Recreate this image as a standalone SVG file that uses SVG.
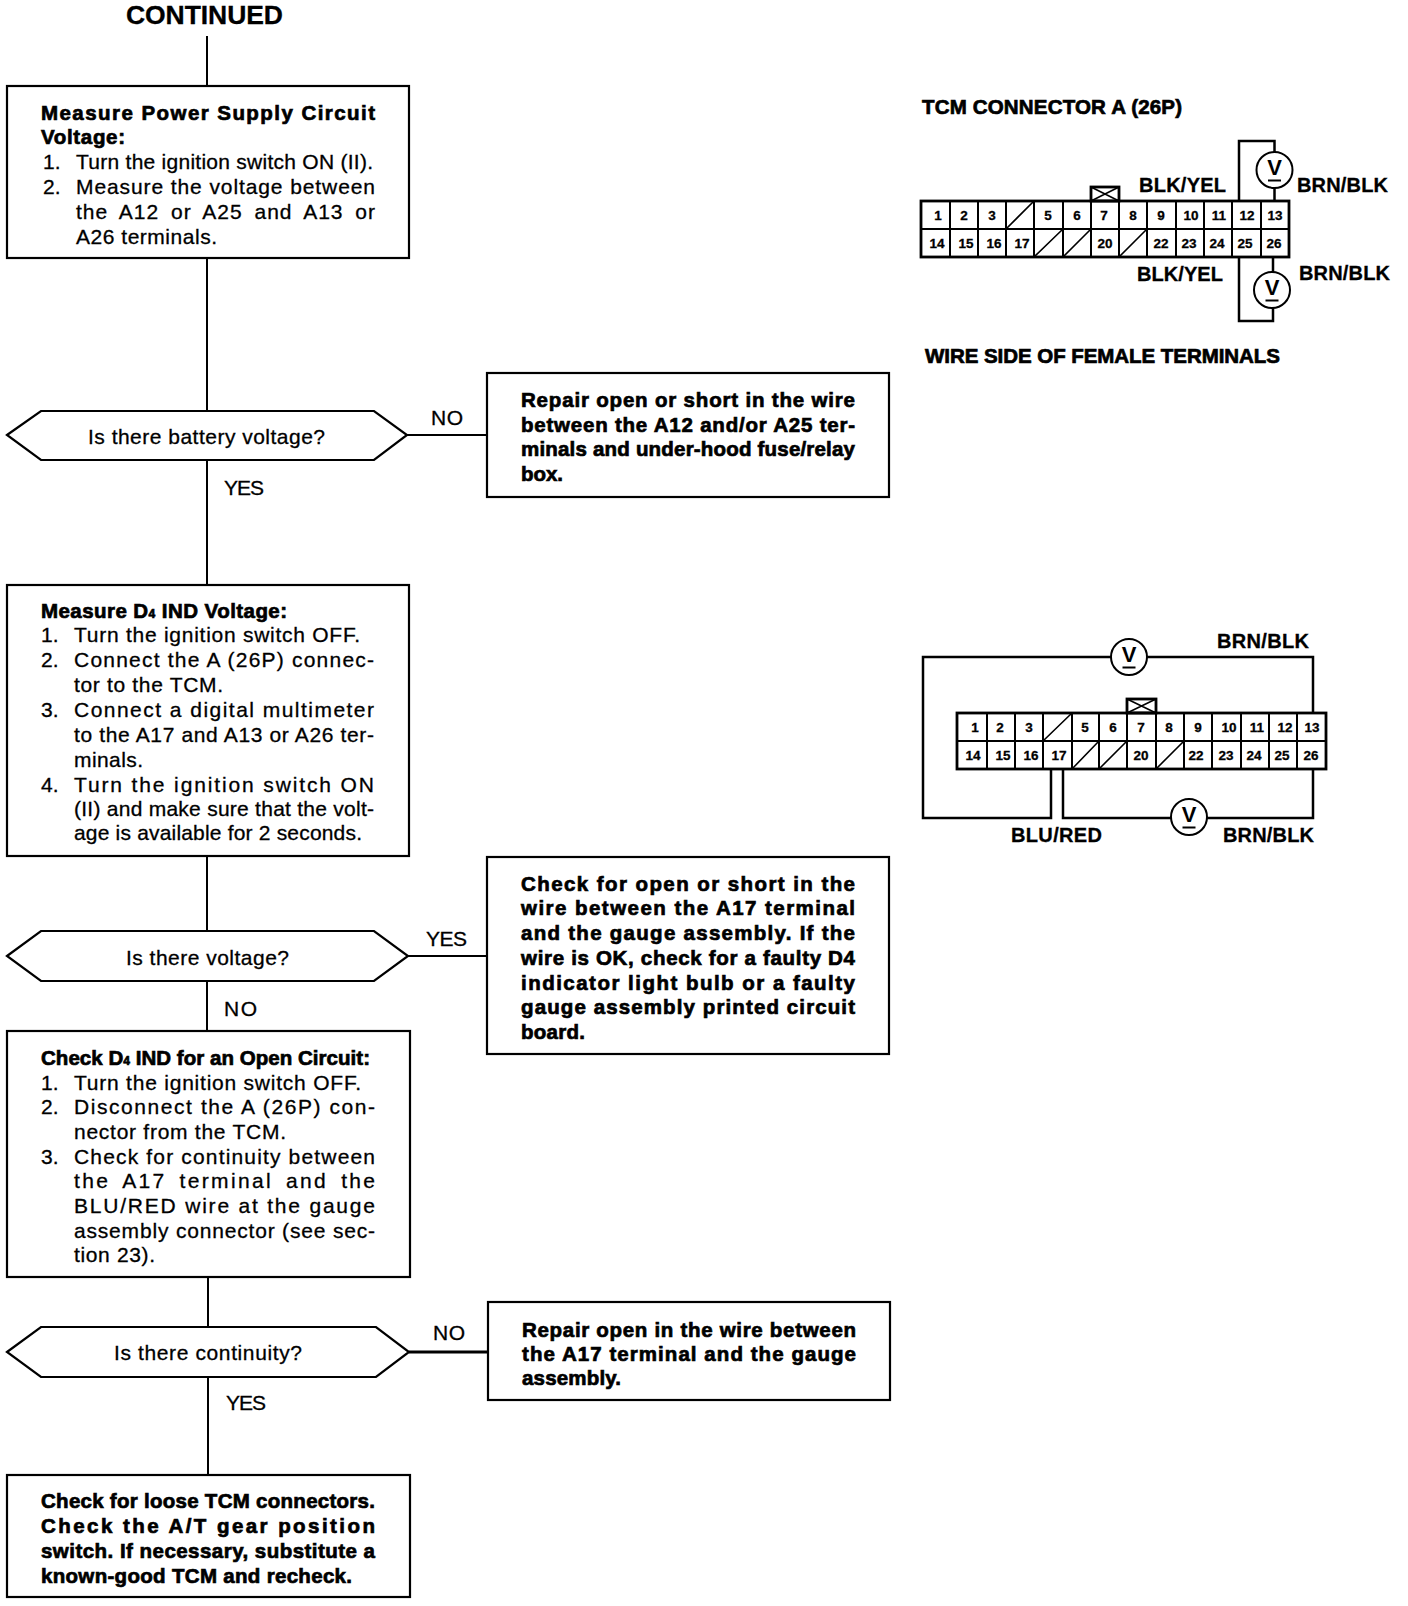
<svg xmlns="http://www.w3.org/2000/svg" width="1408" height="1606" viewBox="0 0 1408 1606">
<style>
text{font-family:"Liberation Sans",Arial,sans-serif;fill:#000;white-space:pre}
.b{font-weight:bold}
.t{font-size:21px;stroke:#000;stroke-width:.3px}
.h{font-size:20.5px;font-weight:bold;stroke:#000;stroke-width:.7px}
.s{font-size:12px}
.n{font-size:13.5px;font-weight:bold;text-anchor:middle;stroke:#000;stroke-width:.3px}
.l{font-size:20px;font-weight:bold;stroke:#000;stroke-width:.3px}
.j{word-spacing:5px}
.box{fill:#fff;stroke:#000;stroke-width:2.2}
.w{fill:none;stroke:#000;stroke-width:2}
.wt{fill:none;stroke:#000;stroke-width:2.8}
.wm{fill:none;stroke:#000;stroke-width:2.5}
.m{fill:#fff;stroke:#000;stroke-width:2}
.g{fill:none;stroke:#000;stroke-width:1.6}
.v{font-size:22px;font-weight:bold;text-anchor:middle}
</style>
<rect width="1408" height="1606" fill="#fff"/>
<g id="connectors">
<path class="w" d="M207 36V86M207 258V411M207 460V585M207 856V931M207 981V1031M208 1277V1327M208 1377V1475"/>
<path class="w" d="M407 435H487M408 956H487"/>
<path class="wt" d="M409 1352H488"/>
</g>
<g id="labels">
<text x="126" y="24" class="b" font-size="26.5" textLength="157" stroke="#000" stroke-width=".3">CONTINUED</text>
<text x="431" y="425" class="t" textLength="32">NO</text>
<text x="224" y="495" class="t" textLength="40">YES</text>
<text x="426" y="946" class="t" textLength="41">YES</text>
<text x="224" y="1016" class="t" textLength="33">NO</text>
<text x="433" y="1340" class="t" textLength="32">NO</text>
<text x="226" y="1410" class="t" textLength="40">YES</text>
</g>
<g id="step-power-supply">
<rect class="box" x="7" y="86" width="402" height="172"/>
<text x="41" y="120" class="h" textLength="334">Measure Power Supply Circuit</text>
<text x="41" y="144" class="h" textLength="84">Voltage:</text>
<text x="43" y="169" class="t">1.</text>
<text x="76" y="169" class="t" textLength="297">Turn the ignition switch ON (II).</text>
<text x="43" y="194" class="t">2.</text>
<text x="76" y="194" class="t" textLength="299">Measure the voltage between</text>
<text x="76" y="219" class="t j" textLength="299">the A12 or A25 and A13 or</text>
<text x="76" y="244" class="t" textLength="141">A26 terminals.</text>
</g>
<g id="decision-battery">
<polygon class="box" points="7,435 41,411 374,411 407,435 374,460 41,460"/>
<text x="88" y="444" class="t" textLength="237">Is there battery voltage?</text>
</g>
<g id="repair-power">
<rect class="box" x="487" y="373" width="402" height="124"/>
<text x="521" y="407" class="h" textLength="334">Repair open or short in the wire</text>
<text x="521" y="432" class="h" textLength="334">between the A12 and/or A25 ter-</text>
<text x="521" y="456" class="h" textLength="334">minals and under-hood fuse/relay</text>
<text x="521" y="481" class="h" textLength="42">box.</text>
</g>
<g id="step-d4-voltage">
<rect class="box" x="7" y="585" width="402" height="271"/>
<text x="41" y="618" class="h" textLength="246">Measure D<tspan class="s">4</tspan> IND Voltage:</text>
<text x="41" y="642" class="t">1.</text>
<text x="74" y="642" class="t" textLength="286">Turn the ignition switch OFF.</text>
<text x="41" y="667" class="t">2.</text>
<text x="74" y="667" class="t" textLength="300">Connect the A (26P) connec-</text>
<text x="74" y="692" class="t" textLength="149">tor to the TCM.</text>
<text x="41" y="717" class="t">3.</text>
<text x="74" y="717" class="t" textLength="300">Connect a digital multimeter</text>
<text x="74" y="742" class="t" textLength="300">to the A17 and A13 or A26 ter-</text>
<text x="74" y="767" class="t" textLength="69">minals.</text>
<text x="41" y="792" class="t">4.</text>
<text x="74" y="792" class="t" textLength="300">Turn the ignition switch ON</text>
<text x="74" y="816" class="t" textLength="300">(II) and make sure that the volt-</text>
<text x="74" y="840" class="t" textLength="288">age is available for 2 seconds.</text>
</g>
<g id="decision-voltage">
<polygon class="box" points="7,956 41,931 374,931 408,956 374,981 41,981"/>
<text x="126" y="965" class="t" textLength="163">Is there voltage?</text>
</g>
<g id="check-wire">
<rect class="box" x="487" y="857" width="402" height="197"/>
<text x="521" y="891" class="h" textLength="334">Check for open or short in the</text>
<text x="521" y="915" class="h" textLength="334">wire between the A17 terminal</text>
<text x="521" y="940" class="h" textLength="334">and the gauge assembly. If the</text>
<text x="521" y="965" class="h" textLength="334">wire is OK, check for a faulty D4</text>
<text x="521" y="990" class="h" textLength="334">indicator light bulb or a faulty</text>
<text x="521" y="1014" class="h" textLength="334">gauge assembly printed circuit</text>
<text x="521" y="1039" class="h" textLength="64">board.</text>
</g>
<g id="step-open-circuit">
<rect class="box" x="7" y="1031" width="403" height="246"/>
<text x="41" y="1065" class="h" textLength="329">Check D<tspan class="s">4</tspan> IND for an Open Circuit:</text>
<text x="41" y="1090" class="t">1.</text>
<text x="74" y="1090" class="t" textLength="287">Turn the ignition switch OFF.</text>
<text x="41" y="1114" class="t">2.</text>
<text x="74" y="1114" class="t" textLength="301">Disconnect the A (26P) con-</text>
<text x="74" y="1139" class="t" textLength="212">nector from the TCM.</text>
<text x="41" y="1164" class="t">3.</text>
<text x="74" y="1164" class="t" textLength="301">Check for continuity between</text>
<text x="74" y="1188" class="t j" textLength="301">the A17 terminal and the</text>
<text x="74" y="1213" class="t" textLength="301">BLU/RED wire at the gauge</text>
<text x="74" y="1238" class="t" textLength="301">assembly connector (see sec-</text>
<text x="74" y="1262" class="t" textLength="81">tion 23).</text>
</g>
<g id="decision-continuity">
<polygon class="box" points="7,1352 41,1327 376,1327 409,1352 376,1377 41,1377"/>
<text x="114" y="1360" class="t" textLength="188">Is there continuity?</text>
</g>
<g id="repair-open">
<rect class="box" x="488" y="1302" width="402" height="98"/>
<text x="522" y="1337" class="h" textLength="334">Repair open in the wire between</text>
<text x="522" y="1361" class="h" textLength="334">the A17 terminal and the gauge</text>
<text x="522" y="1385" class="h" textLength="99">assembly.</text>
</g>
<g id="check-loose">
<rect class="box" x="7" y="1475" width="403" height="122"/>
<text x="41" y="1508" class="h" textLength="334">Check for loose TCM connectors.</text>
<text x="41" y="1533" class="h" textLength="334">Check the A/T gear position</text>
<text x="41" y="1558" class="h" textLength="334">switch. If necessary, substitute a</text>
<text x="41" y="1583" class="h" textLength="311">known-good TCM and recheck.</text>
</g>
<g id="connector-diagram-1">
<text x="922" y="114" class="h" textLength="260">TCM CONNECTOR A (26P)</text>
<path class="wm" d="M1239 201V141H1274.500V152M1274.500 188V201M1273 257V272M1273 308V321H1239V257"/>
<circle class="m" cx="1274.500" cy="170" r="18"/>
<text x="1274.500" y="175" class="v">V</text><path class="w" d="M1268 180.500H1281"/>
<circle class="m" cx="1272" cy="290" r="18"/>
<text x="1272" y="295" class="v">V</text><path class="w" d="M1265.500 300.500H1278.500"/>
<text x="1139" y="192" class="l" textLength="87">BLK/YEL</text>
<text x="1297" y="192" class="l" textLength="91">BRN/BLK</text>
<text x="1137" y="281" class="l" textLength="86">BLK/YEL</text>
<text x="1299" y="280" class="l" textLength="91">BRN/BLK</text>
<text x="925" y="363" class="h" textLength="355">WIRE SIDE OF FEMALE TERMINALS</text>
<rect class="wt" x="1091" y="187" width="28" height="14"/>
<path class="g" d="M1091 187L1119 201M1119 187L1091 201"/>
<rect class="wt" x="921" y="201" width="368" height="56"/>
<path class="w" d="M921 229H1289M950 201V257M978 201V257M1006 201V257M1034 201V257M1063 201V257M1091 201V257M1119 201V257M1147 201V257M1176 201V257M1204 201V257M1232 201V257M1261 201V257"/>
<path class="g" d="M1006 229L1034 201M1034 257L1063 229M1063 257L1091 229M1119 257L1147 229"/>
<text x="938" y="220" class="n">1</text><text x="964" y="220" class="n">2</text><text x="992" y="220" class="n">3</text><text x="1048" y="220" class="n">5</text><text x="1077" y="220" class="n">6</text><text x="1104" y="220" class="n">7</text><text x="1133" y="220" class="n">8</text><text x="1161" y="220" class="n">9</text><text x="1191" y="220" class="n">10</text><text x="1219" y="220" class="n">11</text><text x="1247" y="220" class="n">12</text><text x="1275" y="220" class="n">13</text>
<text x="937" y="248" class="n">14</text><text x="966" y="248" class="n">15</text><text x="994" y="248" class="n">16</text><text x="1022" y="248" class="n">17</text><text x="1105" y="248" class="n">20</text><text x="1161" y="248" class="n">22</text><text x="1189" y="248" class="n">23</text><text x="1217" y="248" class="n">24</text><text x="1245" y="248" class="n">25</text><text x="1274" y="248" class="n">26</text>
</g>
<g id="connector-diagram-2">
<path class="wm" d="M1111 657H923V818H1051V769M1147 657H1313V713"/>
<path class="wm" d="M1063 769V818H1171M1207 818H1313V769"/>
<circle class="m" cx="1129" cy="657" r="18"/>
<text x="1129" y="662" class="v">V</text><path class="w" d="M1122.500 667.500H1135.500"/>
<circle class="m" cx="1189" cy="817" r="18"/>
<text x="1189" y="822" class="v">V</text><path class="w" d="M1182.500 827.500H1195.500"/>
<text x="1217" y="648" class="l" textLength="92">BRN/BLK</text>
<text x="1011" y="842" class="l" textLength="91">BLU/RED</text>
<text x="1223" y="842" class="l" textLength="91">BRN/BLK</text>
<rect class="wt" x="1127" y="699" width="29" height="14"/>
<path class="g" d="M1127 699L1156 713M1156 699L1127 713"/>
<rect class="wt" x="957" y="713" width="369" height="56"/>
<path class="w" d="M957 741H1326M987 713V769M1015 713V769M1043 713V769M1072 713V769M1099 713V769M1127 713V769M1156 713V769M1184 713V769M1212 713V769M1241 713V769M1269 713V769M1297 713V769"/>
<path class="g" d="M1043 741L1072 713M1072 769L1099 741M1099 769L1127 741M1156 769L1184 741"/>
<text x="975" y="732" class="n">1</text><text x="1000" y="732" class="n">2</text><text x="1029" y="732" class="n">3</text><text x="1085" y="732" class="n">5</text><text x="1113" y="732" class="n">6</text><text x="1141" y="732" class="n">7</text><text x="1169" y="732" class="n">8</text><text x="1198" y="732" class="n">9</text><text x="1229" y="732" class="n">10</text><text x="1257" y="732" class="n">11</text><text x="1285" y="732" class="n">12</text><text x="1312" y="732" class="n">13</text>
<text x="973" y="760" class="n">14</text><text x="1003" y="760" class="n">15</text><text x="1031" y="760" class="n">16</text><text x="1059" y="760" class="n">17</text><text x="1141" y="760" class="n">20</text><text x="1196" y="760" class="n">22</text><text x="1226" y="760" class="n">23</text><text x="1254" y="760" class="n">24</text><text x="1282" y="760" class="n">25</text><text x="1311" y="760" class="n">26</text>
</g>
</svg>
